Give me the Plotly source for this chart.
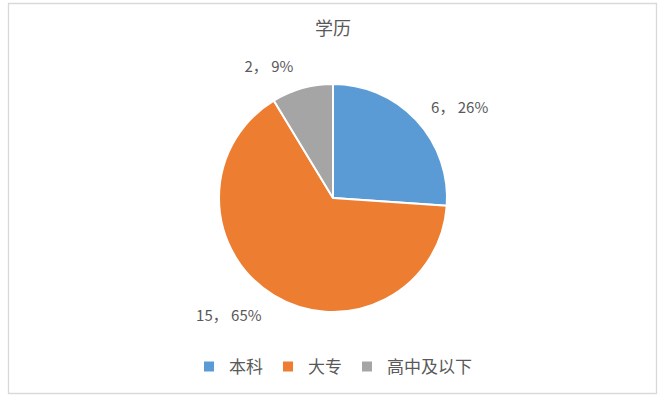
import plotly.graph_objects as go

categories = ["本科", "大专", "高中及以下"]
values = [6, 15, 2]
colors = ["#5B9BD5", "#ED7D31", "#A5A5A5"]
title_text = "学历"

W, H = 671, 401
font_family = "Noto Sans CJK SC"
label_color = "#595959"

CX, CY, R = 333, 198, 114   # pie centre and radius in page pixels
R_LABEL = 127               # labels sit a little further out than the pie


def dom(r):
    return dict(x=[(CX - r) / W, (CX + r) / W],
                y=[1 - (CY + r) / H, 1 - (CY - r) / H])


# the coloured pie
fig = go.Figure(go.Pie(
    labels=categories,
    values=values,
    sort=False,
    direction="clockwise",
    rotation=0,
    marker=dict(colors=colors, line=dict(color="white", width=2)),
    textinfo="none",
    domain=dom(R),
    showlegend=True,
    hoverinfo="label+value+percent",
))

# same data, transparent, slightly larger: only carries the outside data labels
fig.add_trace(go.Pie(
    labels=categories,
    values=values,
    sort=False,
    direction="clockwise",
    rotation=0,
    marker=dict(colors=["rgba(0,0,0,0)"] * len(values), line=dict(width=0)),
    texttemplate="%{value}， %{percent:.0%}",
    textposition="outside",
    textfont=dict(family=font_family, size=15, color=label_color),
    domain=dom(R_LABEL),
    showlegend=False,
    hoverinfo="skip",
))

fig.update_layout(
    width=W,
    height=H,
    margin=dict(l=0, r=0, t=0, b=0),
    paper_bgcolor="white",
    plot_bgcolor="white",
    font=dict(family=font_family, color=label_color),
    title=dict(text=title_text, x=333 / W, xanchor="center", y=1 - 29 / H, yanchor="middle",
               font=dict(size=18, color=label_color, family=font_family)),
    legend=dict(orientation="h", x=333 / W, xanchor="center", y=1 - 367 / H, yanchor="middle",
                font=dict(size=17, color=label_color, family=font_family),
                itemwidth=30, traceorder="normal"),
    shapes=[dict(type="rect", xref="paper", yref="paper",
                 x0=8.5 / W, x1=656.5 / W, y0=1 - 393.5 / H, y1=1 - 3.5 / H,
                 line=dict(color="#D9D9D9", width=1.3), fillcolor="rgba(0,0,0,0)")],
)

fig.write_html("out.html", config={"displayModeBar": False},
               post_script="document.body.style.margin='0';")
